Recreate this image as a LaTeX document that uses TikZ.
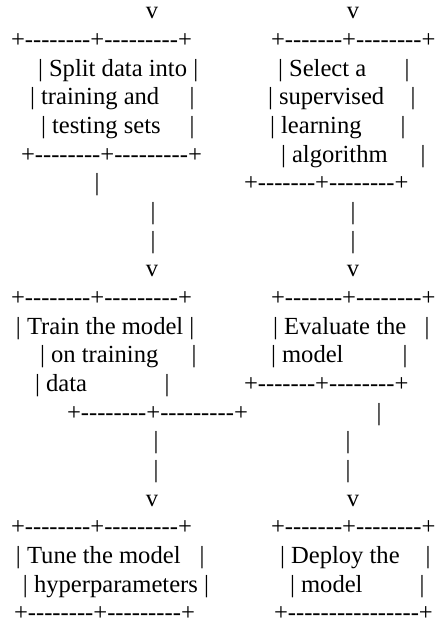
\documentclass[tikz,border=0pt]{standalone}
\usepackage{fontspec}
\setmainfont{Liberation Serif}[Ligatures=TeXOff]
\usetikzlibrary{positioning}

\tikzset{
    asciirow/.style={inner sep=0pt, outer sep=0pt, anchor=base west, font=\fontsize{24.6}{28.65}\selectfont},
    asciibar/.style={asciirow, anchor=base}
}

\begin{document}
\begin{tikzpicture}[x=1pt, y=-28.65pt]
    \useasboundingbox (0,0) rectangle (440,21.85);
    \begin{scope}[yshift=9.65pt]
        % incoming arrows
        \node[asciibar] (inSplit) at (152,1) {v};
        \node[asciibar] (inSelect) at (353,1) {v};

        % split box
        \node[asciirow] (splitTop) at (11,2) {+--------+---------+};
        \node[asciirow] (splitA) at (38,3) {| Split data into |};
        \node[asciirow] (splitB) at (30,4) {| training and};
        \node[asciibar] (splitBr) at (192,4) {|};
        \node[asciirow] (splitC) at (41,5) {| testing sets};
        \node[asciibar] (splitCr) at (192,5) {|};
        \node[asciirow] (splitBot) at (21,6) {+--------+---------+};

        % select box
        \node[asciirow] (selTop) at (271,2) {+-------+--------+};
        \node[asciirow] (selA) at (278,3) {| Select a};
        \node[asciibar] (selAr) at (407,3) {|};
        \node[asciirow] (selB) at (268,4) {| supervised};
        \node[asciibar] (selBr) at (413,4) {|};
        \node[asciirow] (selC) at (270,5) {| learning};
        \node[asciibar] (selCr) at (403,5) {|};
        \node[asciirow] (selD) at (281,6) {| algorithm};
        \node[asciibar] (selDr) at (423,6) {|};
        \node[asciirow] (selBot) at (244,7) {+-------+--------+};

        % links to train / evaluate
        \node[asciibar] (linkL1) at (97,7) {|};
        \node[asciibar] (linkL2) at (153,8) {|};
        \node[asciibar] (linkL3) at (153,9) {|};
        \node[asciibar] (linkL4) at (152,10) {v};
        \node[asciibar] (linkR2) at (353,8) {|};
        \node[asciibar] (linkR3) at (353,9) {|};
        \node[asciibar] (linkR4) at (353,10) {v};

        % train box
        \node[asciirow] (trainTop) at (11,11) {+--------+---------+};
        \node[asciirow] (trainA) at (16,12) {| Train the model |};
        \node[asciirow] (trainB) at (40,13) {| on training};
        \node[asciibar] (trainBr) at (194,13) {|};
        \node[asciirow] (trainC) at (35,14) {| data};
        \node[asciibar] (trainCr) at (167,14) {|};
        \node[asciirow] (trainBot) at (67,15) {+--------+---------+};

        % evaluate box
        \node[asciirow] (evalTop) at (271,11) {+-------+--------+};
        \node[asciirow] (evalA) at (273,12) {| Evaluate the};
        \node[asciibar] (evalAr) at (427,12) {|};
        \node[asciirow] (evalB) at (271,13) {| model};
        \node[asciibar] (evalBr) at (405,13) {|};
        \node[asciirow] (evalBot) at (244,14) {+-------+--------+};

        % links to tune / deploy
        \node[asciibar] (linkR5) at (379,15) {|};
        \node[asciibar] (linkL6) at (156,16) {|};
        \node[asciibar] (linkL7) at (156,17) {|};
        \node[asciibar] (linkL8) at (152,18) {v};
        \node[asciibar] (linkR6) at (348,16) {|};
        \node[asciibar] (linkR7) at (348,17) {|};
        \node[asciibar] (linkR8) at (353,18) {v};

        % tune box
        \node[asciirow] (tuneTop) at (11,19) {+--------+---------+};
        \node[asciirow] (tuneA) at (16,20) {| Tune the model};
        \node[asciibar] (tuneAr) at (202,20) {|};
        \node[asciirow] (tuneB) at (23,21) {| hyperparameters |};
        \node[asciirow] (tuneBot) at (14,22) {+--------+---------+};

        % deploy box
        \node[asciirow] (depTop) at (271,19) {+-------+--------+};
        \node[asciirow] (depA) at (280,20) {| Deploy the};
        \node[asciibar] (depAr) at (428,20) {|};
        \node[asciirow] (depB) at (290,21) {| model};
        \node[asciibar] (depBr) at (422,21) {|};
        \node[asciirow] (depBot) at (274,22) {+----------------+};
    \end{scope}
\end{tikzpicture}
\end{document}
